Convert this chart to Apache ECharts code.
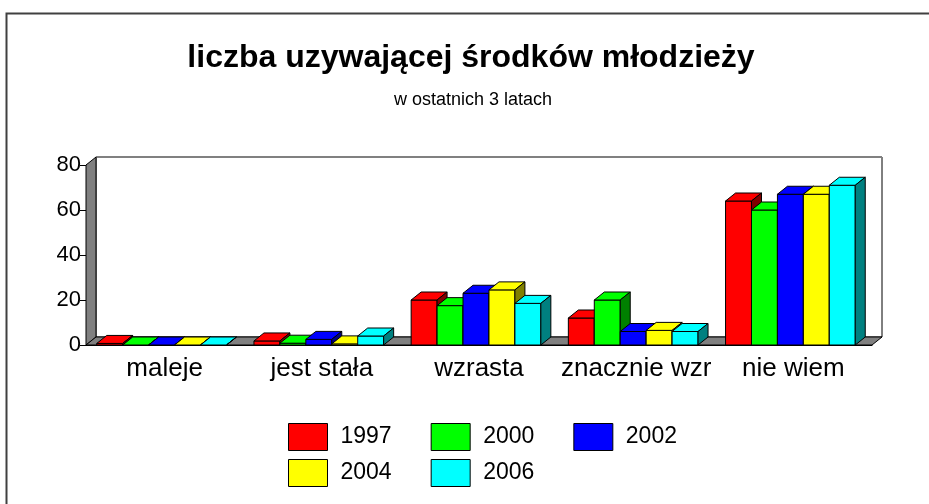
<!DOCTYPE html>
<html>
<head>
<meta charset="utf-8">
<script src="https://cdn.jsdelivr.net/npm/echarts@6/dist/echarts.min.js"></script>
<style>
  html, body { margin: 0; padding: 0; background: #fff; }
  #chart { width: 929px; height: 504px; }
</style>
</head>
<body>
<div id="chart"></div>
<script>
// dane
var categories = ['maleje', 'jest stała', 'wzrasta', 'znacznie wzr', 'nie wiem'];
var years = ['1997', '2000', '2002', '2004', '2006'];
var v1997 = [0.7, 1.8, 20, 12, 64];
var v2000 = [0, 0.8, 17.5, 20, 60];
var v2002 = [0, 2.5, 23, 6, 67];
var v2004 = [0, 0.5, 24.5, 6.5, 67];
var v2006 = [0, 4, 18.5, 6, 71];
var yTicks = [0, 20, 40, 60, 80];

var frontColors = ['#ff0000', '#00ff00', '#0000ff', '#ffff00', '#00ffff'];
var sideColors = ['#800000', '#008000', '#000080', '#808000', '#008080'];
var DX = 10, DY = 8;
var FONT = '"Liberation Sans", Arial, sans-serif';

var chart = echarts.init(document.getElementById('chart'));

function renderBar(params, api) {
  var s = params.seriesIndex - 1;
  var cat = api.value(0);
  var base = api.coord([cat, 0]);
  var top = api.coord([cat, api.value(1)]);
  var w = api.size([1, 0])[0] * 0.165;
  var x0 = base[0] - 2.5 * w - 3 + s * w;
  var yb = base[1], yt = top[1];
  var line = { stroke: '#000', lineWidth: 1 };
  return {
    type: 'group',
    children: [
      { type: 'rect', shape: { x: x0, y: yt, width: w, height: yb - yt },
        style: Object.assign({ fill: frontColors[s] }, line) },
      { type: 'polygon', shape: { points: [[x0, yt], [x0 + DX, yt - DY], [x0 + w + DX, yt - DY], [x0 + w, yt]] },
        style: Object.assign({ fill: frontColors[s] }, line) },
      { type: 'polygon', shape: { points: [[x0 + w, yt], [x0 + w + DX, yt - DY], [x0 + w + DX, yb - DY], [x0 + w, yb]] },
        style: Object.assign({ fill: sideColors[s] }, line) }
    ]
  };
}

// sciany i podloga
function renderWalls(params, api) {
  var cs = params.coordSys;
  var l = cs.x, r = cs.x + cs.width, t = cs.y, b = cs.y + cs.height;
  return {
    type: 'group',
    children: [
      { type: 'rect', shape: { x: l + DX, y: t - DY, width: cs.width, height: cs.height },
        style: { fill: '#fff', stroke: '#000', lineWidth: 1 } },
      { type: 'line', shape: { x1: l + DX, y1: t - DY, x2: r + DX, y2: t - DY },
        style: { stroke: '#808080', lineWidth: 2 } },
      { type: 'polygon', shape: { points: [[l, b], [l, t], [l + DX, t - DY], [l + DX, b - DY]] },
        style: { fill: '#808080', stroke: '#000', lineWidth: 1 } },
      { type: 'polygon', shape: { points: [[l, b], [l + DX, b - DY], [r + DX, b - DY], [r, b]] },
        style: { fill: '#808080', stroke: '#000', lineWidth: 1 } }
    ]
  };
}

var seriesValues = [v1997, v2000, v2002, v2004, v2006];
var series = [{
  type: 'custom',
  silent: true,
  renderItem: renderWalls,
  data: [[0, 0]],
  z: 1
}];
seriesValues.forEach(function (vals, i) {
  series.push({
    name: years[i],
    type: 'custom',
    renderItem: renderBar,
    itemStyle: { color: frontColors[i] },
    encode: { x: 0, y: 1 },
    data: vals.map(function (v, j) { return [j, v]; }),
    z: 2
  });
});

var legendBase = {
  orient: 'horizontal',
  icon: 'rect',
  itemWidth: 39,
  itemHeight: 27,
  itemGap: 39,
  left: 283,
  itemStyle: { borderColor: '#000', borderWidth: 1 },
  textStyle: { fontFamily: FONT, fontSize: 23, color: '#000', padding: [0, 0, 0, 8] }
};

var option = {
  animation: false,
  color: frontColors,
  textStyle: { fontFamily: FONT },
  title: [
    { text: 'liczba uzywającej środków młodzieży', left: 466, top: 37, textAlign: 'center',
      textStyle: { fontFamily: FONT, fontSize: 32, fontWeight: 'bold', color: '#000' } },
    { text: 'w ostatnich 3 latach', left: 468, top: 86, textAlign: 'center',
      textStyle: { fontFamily: FONT, fontSize: 18, fontWeight: 'normal', color: '#000' } }
  ],
  legend: [
    Object.assign({}, legendBase, { top: 418, data: years.slice(0, 3) }),
    Object.assign({}, legendBase, { top: 454, data: years.slice(3) })
  ],
  grid: { left: 86, right: 57, top: 165, bottom: 159 },
  xAxis: {
    type: 'category',
    data: categories,
    boundaryGap: true,
    axisLine: { lineStyle: { color: '#000', width: 1 } },
    axisTick: { length: 7, lineStyle: { color: '#000' } },
    axisLabel: { color: '#000', fontSize: 26, margin: 11, interval: 0, fontFamily: FONT }
  },
  yAxis: {
    type: 'value',
    min: yTicks[0],
    max: yTicks[yTicks.length - 1],
    interval: 20,
    splitLine: { show: false },
    axisLine: { show: true, lineStyle: { color: '#000', width: 1 } },
    axisTick: { show: true, length: 6, lineStyle: { color: '#000' } },
    axisLabel: { color: '#000', fontSize: 22, margin: 5, fontFamily: FONT }
  },
  graphic: [
    { type: 'polyline', shape: { points: [[6.5, 504], [6.5, 13.5], [929, 13.5]] },
      style: { stroke: '#404040', lineWidth: 2, fill: null }, z: 0 }
  ],
  series: series
};

chart.setOption(option);
</script>
</body>
</html>
